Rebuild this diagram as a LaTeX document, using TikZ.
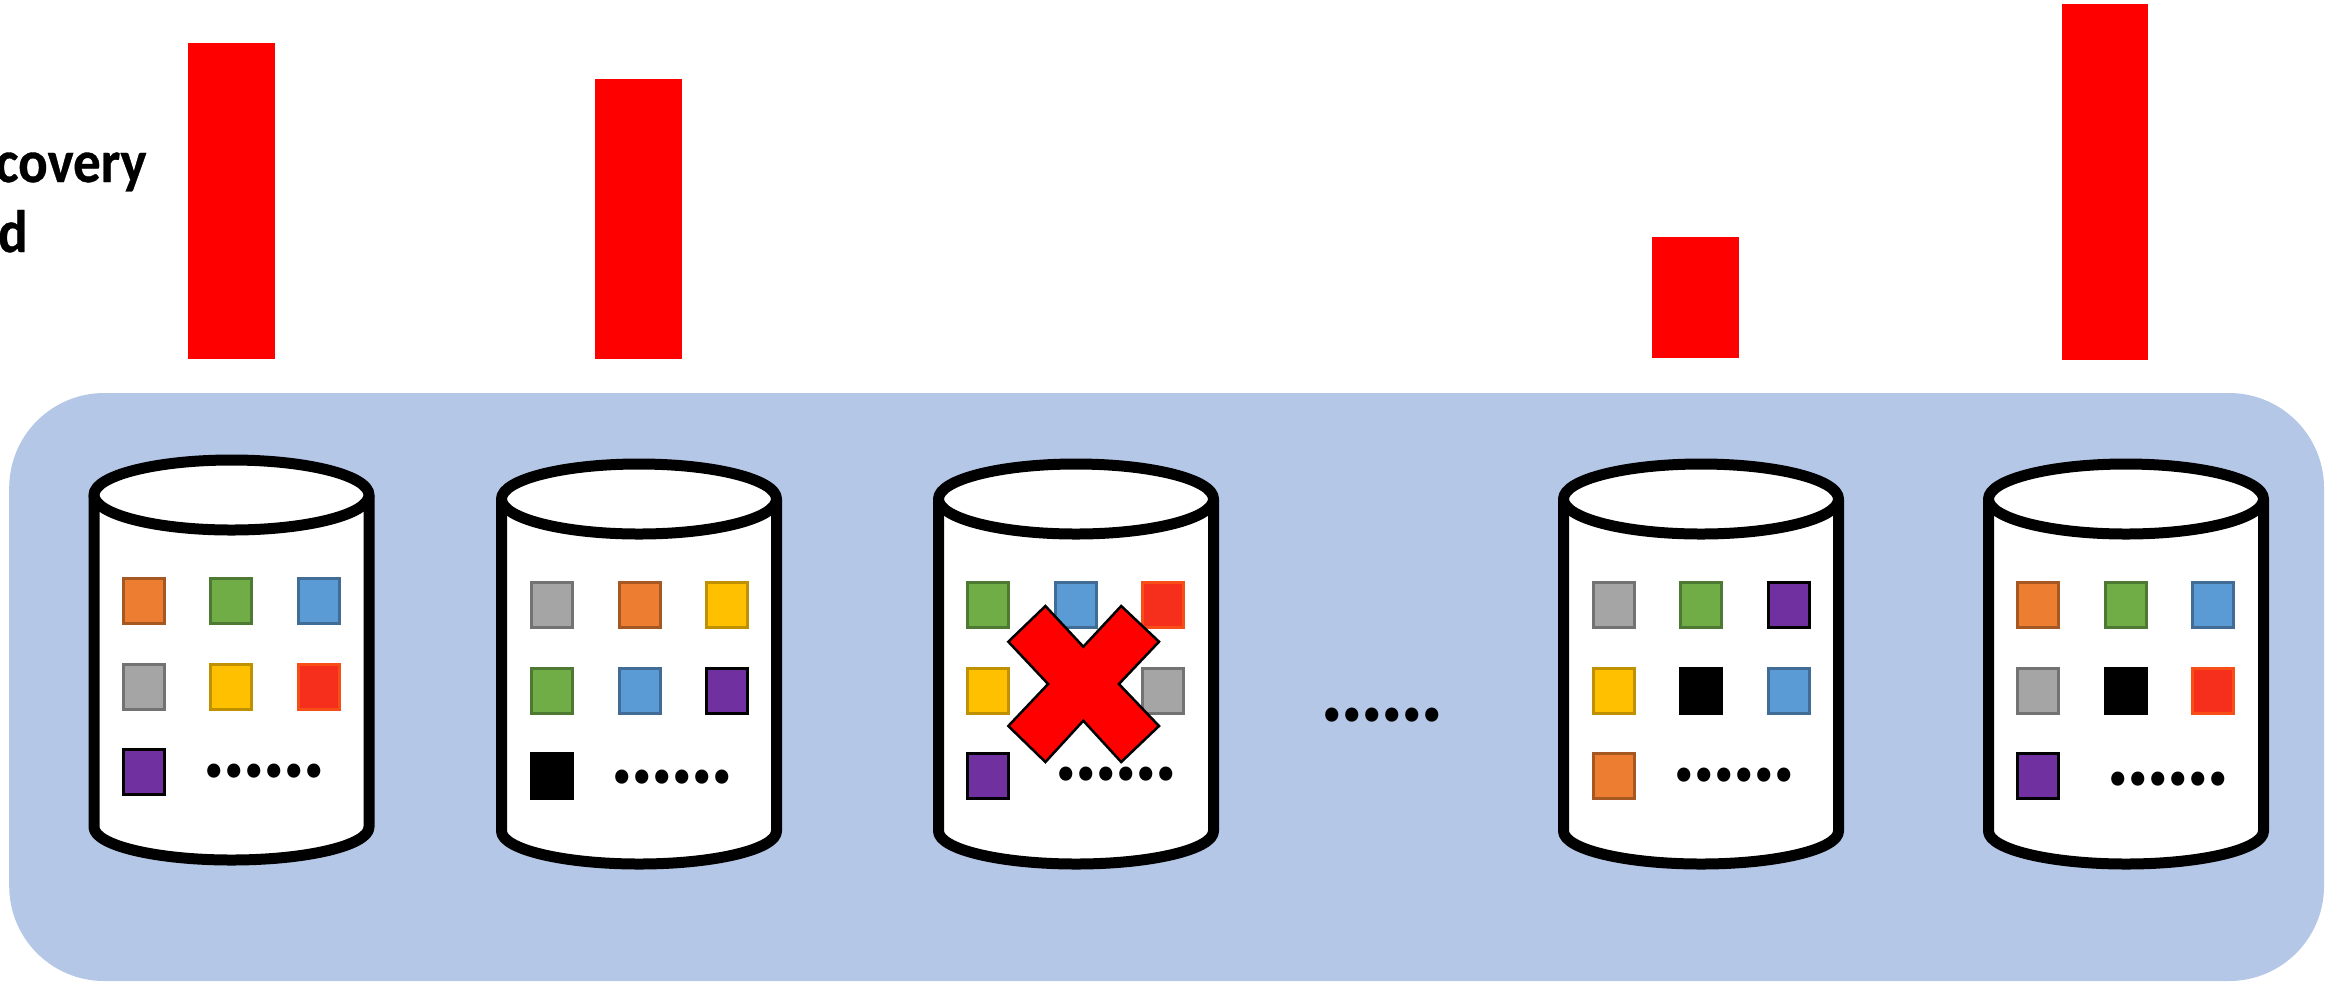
\documentclass[tikz,border=0pt]{standalone}
\usepackage{fontspec}
\setmainfont{Carlito}
\newfontfamily\dotfont[LetterSpace=-4]{Carlito}
\usepackage{tikz}
\usetikzlibrary{positioning}
\definecolor{PanelBlue}{HTML}{B4C7E7}
\definecolor{SqOrange}{HTML}{ED7D31}
\definecolor{SqGreen}{HTML}{70AD47}
\definecolor{SqBlue}{HTML}{5B9BD5}
\definecolor{SqGray}{HTML}{A5A5A5}
\definecolor{SqYellow}{HTML}{FFC000}
\definecolor{SqRed}{HTML}{F62F1C}
\definecolor{SqPurple}{HTML}{7030A0}
\newcommand{\drawdisk}[2]{
  \begin{scope}[shift={(#1,#2)}]
    \draw[diskline] (-137.5,0) -- (-137.5,332)
      arc[start angle=180, end angle=0, x radius=137.5, y radius=33] -- (137.5,0);
    \draw[diskline] (0,0) ellipse [x radius=137.5, y radius=35];
  \end{scope}
}

\begin{document}
\begin{tikzpicture}[
    x=0.5pt,y=-0.5pt,
    node distance=20.25pt and 23.25pt,
    square/.style={
      minimum width=20.5pt,
      minimum height=22.5pt,
      inner sep=0pt,
      outer sep=0pt,
      line width=1.5pt
    },
    orangesq/.style={square, fill=SqOrange, draw=SqOrange!70!black},
    greensq/.style={square, fill=SqGreen, draw=SqGreen!70!black},
    bluesq/.style={square, fill=SqBlue, draw=SqBlue!70!black},
    graysq/.style={square, fill=SqGray, draw=SqGray!70!black},
    yellowsq/.style={square, fill=SqYellow, draw=SqYellow!75!black},
    redsq/.style={square, fill=SqRed, draw=SqRed!85!yellow},
    purplesq/.style={square, fill=SqPurple, draw=black},
    blacksq/.style={square, fill=black, draw=black},
    diskline/.style={
      draw=black,
      fill=white,
      line width=5.5pt,
      line join=round
    },
    bar/.style={
      fill=red,
      inner sep=0pt,
      outer sep=0pt,
      minimum width=43.25pt
    },
    moredots/.style={
      inner sep=0pt,
      anchor=base,
      yscale=1.09,
      transform shape,
      font=\fontsize{44}{44}\dotfont\bfseries
    },
    label/.style={
      inner sep=0pt,
      anchor=base east,
      yscale=1.09,
      transform shape,
      font=\fontsize{27.5}{27.5}\selectfont\bfseries\addfontfeature{FakeBold=0.6}
    }
  ]
  \useasboundingbox (0,0) rectangle (2338,981);

  % background panel
  \node[fill=PanelBlue, rounded corners=47.5pt, inner sep=0pt, outer sep=0pt,
    minimum width=1157.4pt, minimum height=294pt] (panel) at (1166.6,687) {};

  % cut off text on the left
  \node[label] (labelone) at (147,182) {covery};
  \node[label] (labeltwo) at (28,252) {d};

  % red bars above the disks
  \node[bar, minimum height=158pt] (barone) at (231.5,201) {};
  \node[bar, minimum height=140pt] (bartwo) at (638.5,219) {};
  \node[bar, minimum height=60.8pt] (barthree) at (1695.5,297.5) {};
  \node[bar, minimum height=177.85pt] (barfour) at (2105,181.85) {};

  % disks
  \drawdisk{231.5}{495}
  \drawdisk{639}{499}
  \drawdisk{1076}{499}
  \drawdisk{1701}{499}
  \drawdisk{2126}{499}

  % first disk
  \node[orangesq] (a1) at (143.6,601) {};
  \node[greensq, right=of a1] (a2) {};
  \node[bluesq, right=of a2] (a3) {};
  \node[graysq, below=of a1] (a4) {};
  \node[yellowsq, right=of a4] (a5) {};
  \node[redsq, right=of a5] (a6) {};
  \node[purplesq, below=of a4] (a7) {};
  \node[moredots] (adots) at (264,777) {......};

  % second disk
  \node[graysq] (b1) at (552,605) {};
  \node[orangesq, right=of b1] (b2) {};
  \node[yellowsq, right=of b2] (b3) {};
  \node[greensq, below=of b1] (b4) {};
  \node[bluesq, right=of b4] (b5) {};
  \node[purplesq, right=of b5] (b6) {};
  \node[blacksq, below=of b4] (b7) {};
  \node[moredots] (bdots) at (672,783) {......};

  % third disk, the failed one
  \node[greensq] (c1) at (988,605) {};
  \node[bluesq, right=of c1] (c2) {};
  \node[redsq, right=of c2] (c3) {};
  \node[yellowsq, below=of c1] (c4) {};
  \node[graysq, right=67pt of c4] (c5) {};
  \node[purplesq, below=of c4] (c6) {};
  \node[moredots] (cdots) at (1116,780) {......};

  % the cross over it
  \draw[fill=red, draw=black, line width=1.25pt, line join=miter]
    (1045.4,606) -- (1083.3,646.7) -- (1121.2,606) -- (1159,641.7)
    -- (1118.9,684) -- (1159,726) -- (1121.2,762) -- (1083.3,720.7)
    -- (1045.4,762) -- (1008.3,726) -- (1048.1,684) -- (1008.3,641.7)
    -- cycle;

  % dots between the disks
  \node[moredots] (middots) at (1382.5,721) {......};

  % fourth disk
  \node[graysq] (d1) at (1613.5,605) {};
  \node[greensq, right=of d1] (d2) {};
  \node[purplesq, right=of d2] (d3) {};
  \node[yellowsq, below=of d1] (d4) {};
  \node[blacksq, right=of d4] (d5) {};
  \node[bluesq, right=of d5] (d6) {};
  \node[orangesq, below=of d4] (d7) {};
  \node[moredots] (ddots) at (1734,781) {......};

  % fifth disk
  \node[orangesq] (e1) at (2038.3,605) {};
  \node[greensq, right=of e1] (e2) {};
  \node[bluesq, right=of e2] (e3) {};
  \node[graysq, below=of e1] (e4) {};
  \node[blacksq, right=of e4] (e5) {};
  \node[redsq, right=of e5] (e6) {};
  \node[purplesq, below=of e4] (e7) {};
  \node[moredots] (edots) at (2168,785.7) {......};
\end{tikzpicture}
\end{document}
